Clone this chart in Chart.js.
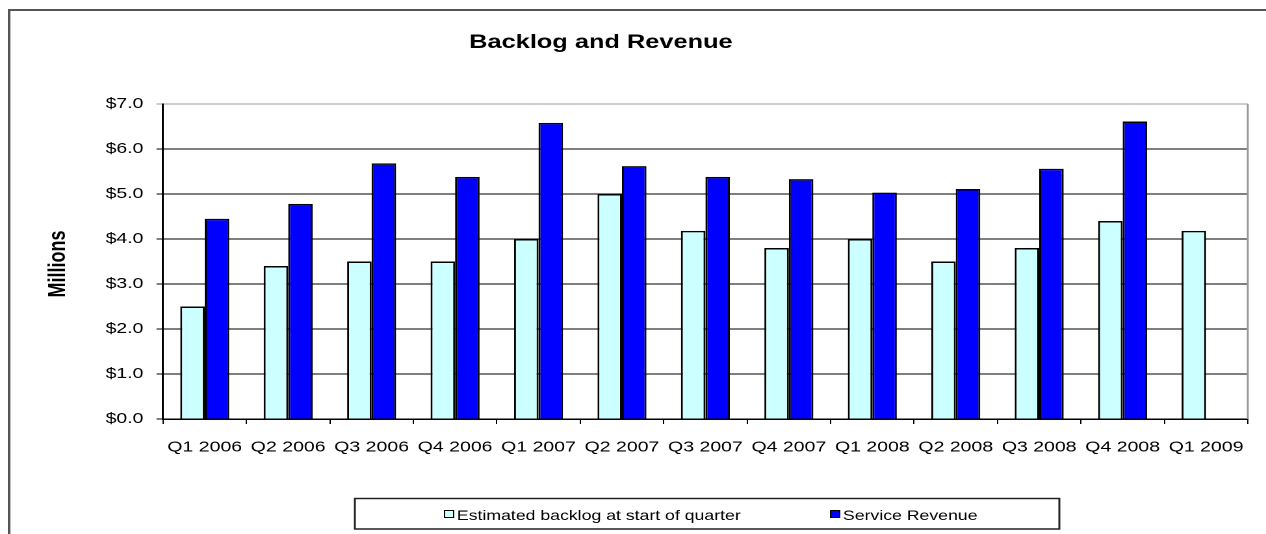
<!DOCTYPE html>
<html>
<head>
<meta charset="utf-8">
<script src="https://cdn.jsdelivr.net/npm/chart.js@4.4.1/dist/chart.umd.min.js"></script>
<style>
  html, body { margin: 0; padding: 0; background: #fff; overflow: hidden; }
  /* the reference is stretched sideways, so draw narrow and scale on x */
  #wrap {
    position: absolute; left: 0; top: 0;
    width: 974px; height: 534px;
    transform: scaleX(1.2998);
    transform-origin: 0 0;
  }
</style>
</head>
<body>
<div id="wrap"><canvas id="chart"></canvas></div>
<script>
/** Backlog and Revenue：按季度的分组柱状图 */
var QUARTERS = [
  "Q1 2006", "Q2 2006", "Q3 2006", "Q4 2006",
  "Q1 2007", "Q2 2007", "Q3 2007", "Q4 2007",
  "Q1 2008", "Q2 2008", "Q3 2008", "Q4 2008",
  "Q1 2009",
];
var BACKLOG = [2.5, 3.4, 3.5, 3.5, 4.0, 5.0, 4.18, 3.8, 4.0, 3.5, 3.8, 4.4, 4.18];
var REVENUE = [4.45, 4.78, 5.68, 5.38, 6.58, 5.62, 5.38, 5.33, 5.03, 5.11, 5.56, 6.61, null];
var SERIES_NAMES = ["Estimated backlog at start of quarter", "Service Revenue"];
var SERIES_COLORS = ["#ccffff", "#0000ff"];
var Y_MAX = 7;

var FONT = "'Liberation Sans', Arial, sans-serif";

// frame, title, axis caption and the boxed legend
var decorPlugin = {
  id: "decor",
  beforeDraw: function (chart) {
    var ctx = chart.ctx;
    ctx.save();
    ctx.fillStyle = "#fff";
    ctx.fillRect(0, 0, chart.width, chart.height);
    ctx.strokeStyle = "#555";
    ctx.lineWidth = 2;
    ctx.beginPath();
    ctx.moveTo(7, chart.height);
    ctx.lineTo(7, 10);
    ctx.lineTo(chart.width, 10);
    ctx.stroke();
    ctx.restore();
  },
  afterDraw: function (chart) {
    var ctx = chart.ctx;
    var area = chart.chartArea;
    ctx.save();

    // right edge of the plot is grey like the top gridline
    ctx.strokeStyle = "#999";
    ctx.lineWidth = 1.5;
    ctx.beginPath();
    ctx.moveTo(area.right, area.top);
    ctx.lineTo(area.right, area.bottom);
    ctx.stroke();

    ctx.fillStyle = "#000";
    ctx.font = "bold 19.5px " + FONT;
    ctx.textAlign = "center";
    ctx.textBaseline = "alphabetic";
    ctx.fillText("Backlog and Revenue", 462.3, 48);

    ctx.save();
    ctx.translate(50, 264);
    ctx.rotate(-Math.PI / 2);
    ctx.font = "bold 18px " + FONT;
    ctx.fillText("Millions", 0, 0);
    ctx.restore();

    // legend box
    ctx.strokeStyle = "#222";
    ctx.lineWidth = 1.5;
    ctx.strokeRect(273, 498.5, 542, 30.5);

    var itemX = [341.5, 638.5];
    ctx.font = "13.6px " + FONT;
    ctx.textAlign = "left";
    chart.data.datasets.forEach(function (ds, i) {
      ctx.fillStyle = ds.backgroundColor;
      ctx.fillRect(itemX[i], 510, 7.5, 7.5);
      ctx.strokeStyle = "#000";
      ctx.lineWidth = 1;
      ctx.strokeRect(itemX[i] + 0.5, 510.5, 7, 7);
      ctx.fillStyle = "#000";
      ctx.fillText(ds.label, itemX[i] + 10, 520);
    });

    ctx.restore();
  },
};

new Chart(document.getElementById("chart"), {
  type: "bar",
  data: {
    labels: QUARTERS,
    datasets: [
      {
        label: SERIES_NAMES[0],
        data: BACKLOG,
        backgroundColor: SERIES_COLORS[0],
        borderColor: "#000",
        borderWidth: 1.5,
      },
      {
        label: SERIES_NAMES[1],
        data: REVENUE,
        backgroundColor: SERIES_COLORS[1],
        borderColor: "#000",
        borderWidth: 1.5,
      },
    ],
  },
  options: {
    responsive: true,
    maintainAspectRatio: false,
    devicePixelRatio: 2,
    animation: false,
    events: [],
    layout: { padding: { left: 0, right: 14, top: 104, bottom: 0 } },
    datasets: { bar: { categoryPercentage: 0.587, barPercentage: 1.0 } },
    plugins: {
      legend: { display: false },
      title: { display: false },
      tooltip: { enabled: false },
    },
    scales: {
      x: {
        afterFit: function (scale) {
          scale.height = 115;
        },
        grid: {
          offset: true,
          drawOnChartArea: false,
          drawTicks: true,
          tickLength: 5,
          color: "#000",
        },
        border: { color: "#000", width: 1.5 },
        ticks: {
          color: "#000",
          font: { family: FONT, size: 15 },
          padding: 14.5,
          maxRotation: 0,
          autoSkip: false,
        },
      },
      y: {
        min: 0,
        max: Y_MAX,
        afterFit: function (scale) {
          scale.width = 125.4;
        },
        grid: {
          color: function (c) {
            return c.tick && c.tick.value === Y_MAX ? "#999" : "#000";
          },
          lineWidth: 1,
          drawTicks: true,
          tickLength: 5,
        },
        border: { color: "#000", width: 1.5 },
        ticks: {
          stepSize: 1,
          color: "#000",
          font: { family: FONT, size: 15 },
          padding: 10,
          callback: function (v) {
            return "$" + Number(v).toFixed(1);
          },
        },
      },
    },
  },
  plugins: [decorPlugin],
});
</script>
</body>
</html>
